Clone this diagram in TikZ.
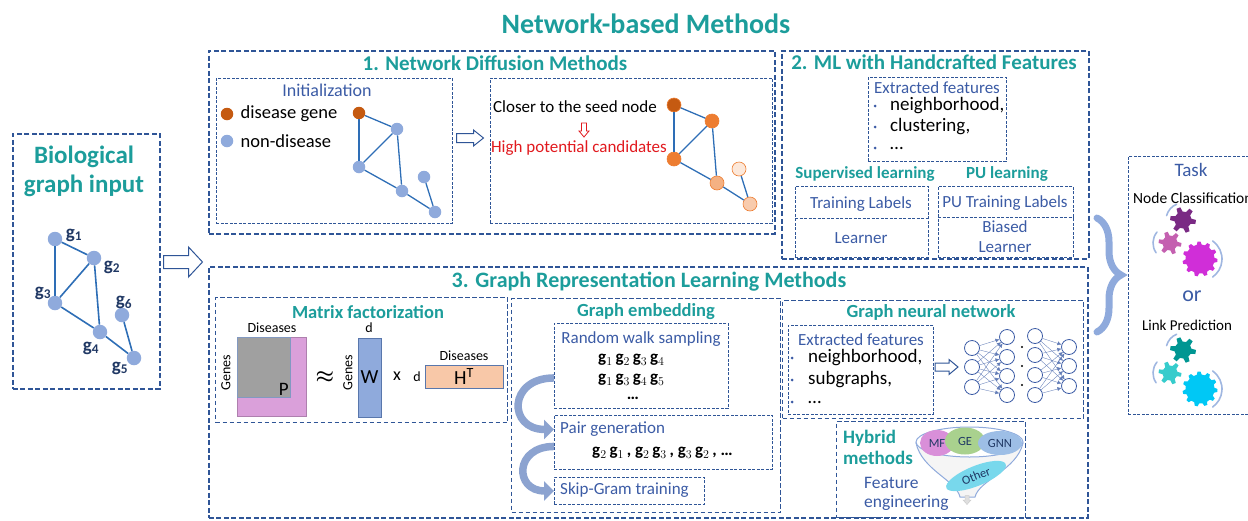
\documentclass[tikz,border=0pt]{standalone}
\usepackage{fontspec}
\setmainfont{Carlito}
\usepackage{bm}
\usetikzlibrary{arrows.meta,shapes,decorations.pathreplacing,positioning}

\definecolor{headteal}{RGB}{28,157,155}
\definecolor{boxblue}{RGB}{47,85,151}
\definecolor{txtblue}{RGB}{59,91,165}
\definecolor{nodeblue}{RGB}{143,170,220}
\definecolor{edgeblue}{RGB}{46,110,182}
\definecolor{gnavy}{RGB}{32,56,100}
\definecolor{seedorange}{RGB}{197,90,17}
\definecolor{midorange}{RGB}{237,125,49}
\definecolor{lightorange}{RGB}{244,177,131}
\definecolor{paleorange}{RGB}{248,203,173}
\definecolor{faintorange}{RGB}{252,232,218}
\definecolor{candred}{RGB}{225,25,30}
\definecolor{matgrey}{RGB}{160,160,160}
\definecolor{matpink}{RGB}{218,160,218}
\definecolor{matpeach}{RGB}{248,200,168}
\definecolor{gearpurple}{RGB}{122,42,132}
\definecolor{gearpink}{RGB}{196,96,176}
\definecolor{gearmagenta}{RGB}{208,46,216}
\definecolor{gearteal}{RGB}{0,150,146}
\definecolor{gearturq}{RGB}{54,204,204}
\definecolor{gearcyan}{RGB}{0,200,245}
\definecolor{mfpink}{RGB}{217,143,217}
\definecolor{gegreen}{RGB}{169,209,142}
\definecolor{gnnblue}{RGB}{157,190,230}
\definecolor{othercyan}{RGB}{120,216,236}
\definecolor{arrowblue}{RGB}{140,163,208}

\tikzstyle{outerbox}=[draw=boxblue, line width=1.8pt, dash pattern=on 5pt off 2.5pt, inner sep=0pt]
\tikzstyle{methodbox}=[draw=boxblue, line width=1.4pt, dash pattern=on 4.5pt off 2.5pt, inner sep=0pt]
\tikzstyle{innerbox}=[draw=boxblue, line width=0.9pt, dash pattern=on 3pt off 1.5pt, inner sep=0pt]
\tikzstyle{heading}=[font=\fontsize{21}{24}\selectfont\bfseries, text=headteal, inner sep=0pt]
\tikzstyle{subheading}=[font=\fontsize{18.5}{21}\selectfont\bfseries, text=headteal, inner sep=0pt]
\tikzstyle{bluetext}=[font=\fontsize{17}{20}\selectfont, text=txtblue, inner sep=0pt]
\tikzstyle{plaintext}=[font=\fontsize{18.5}{21}\selectfont, inner sep=0pt]
\tikzstyle{itemtext}=[font=\fontsize{19}{21}\selectfont, inner sep=0pt, anchor=west]
\tikzstyle{smalltext}=[font=\fontsize{14}{16}\selectfont, inner sep=0pt]
\tikzstyle{walktext}=[font=\fontsize{17}{20}\selectfont\bfseries, inner sep=0pt, anchor=west]
\tikzstyle{bulletdot}=[circle, fill=txtblue, minimum size=3pt, inner sep=0pt]
\tikzstyle{gvertex}=[circle, fill=nodeblue, minimum size=14.5pt, inner sep=0pt]
\tikzstyle{dvertex}=[circle, minimum size=12.5pt, inner sep=0pt]
\tikzstyle{pvertex}=[circle, minimum size=14pt, inner sep=0pt, line width=0.6pt]
\tikzstyle{glabel}=[font=\fontsize{19}{20}\selectfont\bfseries, text=gnavy, inner sep=0pt]
\tikzstyle{gedge}=[draw=edgeblue, line width=1.6pt]
\tikzstyle{dedge}=[draw=edgeblue, line width=1.3pt]
\tikzstyle{matbox}=[draw=boxblue!80, line width=0.8pt, inner sep=0pt, font=\fontsize{20}{22}\selectfont]
\tikzstyle{bendarrow}=[draw=arrowblue, line width=7.5pt, -{Triangle[length=10pt, width=19pt]}]
\tikzstyle{taskbrace}=[draw=nodeblue, line width=7pt, line cap=round, decorate, decoration={brace, amplitude=24pt}]
\tikzstyle{gearring}=[draw=nodeblue!85, line width=1.6pt, line cap=round]
\tikzstyle{neuron}=[circle, draw=txtblue, fill=white, line width=0.8pt, minimum size=15pt, inner sep=0pt]
\tikzstyle{synapse}=[draw=txtblue!80, line width=0.35pt, -{Latex[length=4pt, width=4pt]}]
\tikzstyle{funneledge}=[draw=nodeblue, line width=1pt]
\tikzstyle{oval}=[ellipse, inner sep=0pt, font=\fontsize{12.5}{14}\selectfont, text=gnavy]

% x, y, angle, length, half shaft, half head, head length, looks
\newcommand{\hollowarrow}[8]{%
  \draw[line width=1pt, #8, shift={(#1,#2)}, rotate=#3]
    (-#4/2,-#5) -- (#4/2-#7,-#5) -- (#4/2-#7,-#6) -- (#4/2,0)
    -- (#4/2-#7,#6) -- (#4/2-#7,#5) -- (-#4/2,#5) -- cycle;}

% x, y, outer radius, inner radius, teeth, colour
\newcommand{\gear}[6]{%
  \fill[#6, shift={(#1,#2)}] (0:#3) \foreach \i in {1,...,#5} {
      -- ({(\i-1+0.3)*360/#5}:#3) -- ({(\i-1+0.45)*360/#5}:#4)
      -- ({(\i-1+0.85)*360/#5}:#4) -- ({\i*360/#5}:#3) } -- cycle;}

\begin{document}
\begin{tikzpicture}[x=1pt, y=-1pt]
\useasboundingbox (0,0) rectangle (1248,520);

\node[font=\fontsize{28}{32}\selectfont\bfseries, text=headteal] (maintitle) at (646,24) {Network-based Methods};

% input graph
\node[outerbox, anchor=north west, minimum width=147, minimum height=255] (inbox) at (12,133) {};
\node[font=\fontsize{25}{29}\selectfont\bfseries, text=headteal, align=center, inner sep=0pt] (intitle) at (84,171) {Biological\\graph input};

\foreach \x/\y/\name in {55/239/g1, 94/258/g2, 55/303/g3, 100/332/g4, 134/358/g5, 122/315/g6}
    \node[gvertex] (\name) at (\x,\y) {};
\foreach \source/\dest in {g1/g2, g1/g3, g3/g2, g2/g4, g3/g4, g4/g5, g6/g5}
    \path[gedge] (\source) -- (\dest);
\foreach \name/\x/\y/\k in {g1/74/235/1, g2/112/267/2, g3/43/293/3, g4/91/348/4, g5/120/368/5, g6/124/302/6}
    \node[glabel] (\name lab) at (\x,\y) {g\textsubscript{\k}};

\hollowarrow{183}{262}{0}{39}{6.5}{15}{14}{draw=boxblue, fill=white}

% 1. network diffusion
\node[outerbox, anchor=north west, minimum width=566, minimum height=183] (ndbox) at (208,50) {};
\node[heading] (ndtitle) at (495,63) {1. Network Diffusion Methods};
\node[innerbox, anchor=north west, minimum width=236, minimum height=145] (initbox) at (216,78) {};
\node[bluetext, font=\fontsize{18}{20}\selectfont] (inittitle) at (327,90) {Initialization};
\node[dvertex, fill=seedorange] (seedkey) at (227,114) {};
\node[plaintext, right=7pt of seedkey] (seedtext) {disease gene};
\node[dvertex, fill=nodeblue] (otherkey) at (227,141) {};
\node[plaintext, right=7pt of otherkey] (othertext) {non-disease};

\def\dx{0};
\def\dy{0};
\foreach \x/\y/\name/\col in {359/113/i1/seedorange, 397/129/i2/nodeblue, 359/167/i3/nodeblue, 402/191/i4/nodeblue, 435/212/i5/nodeblue, 424/177/i6/nodeblue}
    \node[dvertex, fill=\col] (\name) at (\x+\dx,\y+\dy) {};
\foreach \source/\dest in {i1/i2, i1/i3, i3/i2, i2/i4, i3/i4, i4/i5, i6/i5}
    \path[dedge] (\source) -- (\dest);

\hollowarrow{470}{138}{0}{27}{4.5}{8}{10}{draw=boxblue, fill=white}

\node[innerbox, anchor=north west, minimum width=282, minimum height=145] (seedbox) at (490,78) {};
\node[plaintext, font=\fontsize{17}{20}\selectfont] (closer) at (575,107) {Closer to the seed node};
\hollowarrow{584}{130}{-90}{14}{2.5}{5}{6}{draw=candred, fill=white, line width=0.8pt}
\node[plaintext, font=\fontsize{17}{20}\selectfont, text=candred] (candidates) at (579,148) {High potential candidates};

\def\dx{315};
\def\dy{-8};
\foreach \x/\y/\name/\col in {359/113/p1/seedorange, 397/129/p2/midorange, 359/167/p3/midorange, 402/191/p4/lightorange, 435/212/p5/paleorange, 424/177/p6/faintorange}
    \node[pvertex, fill=\col, draw=midorange] (\name) at (\x+\dx,\y+\dy) {};
\foreach \source/\dest in {p1/p2, p1/p3, p3/p2, p2/p4, p3/p4, p4/p5, p6/p5}
    \path[dedge] (\source) -- (\dest);

% 2. handcrafted features
\node[outerbox, anchor=north west, minimum width=307, minimum height=208] (mlbox) at (781,50) {};
\node[heading] (mltitle) at (934,62) {2. ML with Handcrafted Features};
\node[innerbox, anchor=north west, minimum width=138, minimum height=84] (featbox) at (868,77) {};
\node[bluetext] (feattitle) at (937,88) {Extracted features};
\foreach \y/\feat [count=\i] in {106/{neighborhood,}, 127/{clustering,}, 148/\dots}{
    \node[bulletdot] (featdot\i) at (875,\y) {};
    \node[itemtext] (featitem\i) at (890,\y) {\feat};}

\node[subheading, font=\fontsize{17}{20}\selectfont\bfseries] (suptitle) at (865,174) {Supervised learning};
\node[subheading, font=\fontsize{17}{20}\selectfont\bfseries] (putitle) at (1007,174) {PU learning};
\node[innerbox, anchor=north west, minimum width=133, minimum height=71] (supbox) at (795,186) {};
\draw[innerbox] (supbox.west |- 0,218) -- (supbox.east |- 0,218);
\node[bluetext] (suplabels) at (861,204) {Training Labels};
\node[bluetext] (suplearner) at (861,238) {Learner};
\node[innerbox, anchor=north west, minimum width=135, minimum height=71] (pubox) at (938,186) {};
\draw[innerbox] (pubox.west |- 0,217) -- (pubox.east |- 0,217);
\node[bluetext] (pulabels) at (1005,203) {PU Training Labels};
\node[bluetext, align=center] (pulearner) at (1005,237) {Biased\\Learner};

% task
\draw[taskbrace] (1097,218) -- (1097,332);
\node[innerbox, anchor=north west, minimum width=125, minimum height=258] (taskbox) at (1128,156) {};
\node[bluetext, font=\fontsize{19}{22}\selectfont] (tasktitle) at (1191,170) {Task};
\node[inner sep=0pt, anchor=west, font=\fontsize{15.5}{18}\selectfont] (nodeclass) at (1133,198) {Node Classification};
\node[bluetext, font=\fontsize{22}{24}\selectfont] (ortext) at (1192,296) {or};
\node[inner sep=0pt, font=\fontsize{15}{18}\selectfont] (linkpred) at (1187,325) {Link Prediction};

\foreach \dy/\colA/\colB/\colC in {0/gearpurple/gearpink/gearmagenta, 130/gearteal/gearturq/gearcyan}{
    \gear{1183}{220+\dy}{13}{8.5}{6}{\colA}
    \gear{1170}{243+\dy}{11.5}{7.5}{6}{\colB}
    \gear{1200}{259+\dy}{17.5}{14.5}{11}{\colC}
    \foreach \cx/\cy/\rr/\aa/\bb in {1183/220/17/-112/-165, 1170/243/17/-140/-215, 1200/259/22/-55/55}
        \draw[gearring] (\cx,\cy+\dy) ++(\aa:\rr) arc[start angle=\aa, end angle=\bb, radius=\rr];
}

% 3. representation learning
\node[outerbox, anchor=north west, minimum width=879, minimum height=251] (grlbox) at (208,266) {};
\node[heading, font=\fontsize{22}{24}\selectfont\bfseries] (grltitle) at (649,282) {3. Graph Representation Learning Methods};

\node[methodbox, anchor=north west, minimum width=292, minimum height=125] (mfbox) at (215,297) {};
\node[subheading] (mftitle) at (368,312) {Matrix factorization};
\node[smalltext] (pcols) at (272,328) {Diseases};
\node[anchor=north west, fill=matpink, draw=matpink!80!black, line width=0.5pt, minimum width=69, minimum height=79, inner sep=0pt] (pfull) at (237,337) {};
\node[anchor=north west, fill=matgrey, draw=boxblue!60, line width=0.8pt, minimum width=53, minimum height=60, inner sep=0pt] (pmat) at (237,337) {};
\node[font=\fontsize{19}{20}\selectfont, anchor=south east, inner sep=2pt] (plabel) at (pmat.south east) {P};
\node[smalltext, rotate=90] (prows) at (226,373) {Genes};
\node[font=\fontsize{22}{24}\selectfont, inner sep=0pt] (approx) at (325,377) {$\bm{\approx}$};
\node[smalltext, rotate=90] (wrows) at (348,373) {Genes};
\node[matbox, fill=nodeblue, minimum width=23, minimum height=79] (wmat) at (369.5,377.5) {W};
\node[smalltext] (wcols) at (369,328) {d};
\node[font=\fontsize{18}{20}\selectfont, inner sep=0pt] (times) at (397,376) {x};
\node[smalltext] (hrows) at (417,377) {d};
\node[matbox, fill=matpeach, minimum width=78, minimum height=23] (hmat) at (464,376.5) {H\textsuperscript{T}};
\node[smalltext] (hcols) at (464,356) {Diseases};

\node[methodbox, anchor=north west, minimum width=269, minimum height=214] (gebox) at (511,298) {};
\node[subheading] (getitle) at (646,312) {Graph embedding};
\node[innerbox, anchor=north west, minimum width=174, minimum height=85] (rwbox) at (554,323) {};
\node[bluetext] (rwtitle) at (641,339) {Random walk sampling};
\node[walktext] (walk1) at (598,360) {$\mathbf{g}_1\,\mathbf{g}_2\,\mathbf{g}_3\,\mathbf{g}_4$};
\node[walktext] (walk2) at (598,380) {$\mathbf{g}_1\,\mathbf{g}_3\,\mathbf{g}_4\,\mathbf{g}_5$};
\node[walktext, anchor=center] (walk3) at (633,398) {\dots};
\node[innerbox, anchor=north west, minimum width=218, minimum height=54] (pairbox) at (554,415) {};
\node[bluetext, anchor=west] (pairtitle) at (560,429) {Pair generation};
\node[walktext] (pairs) at (592,453) {$\mathbf{g}_2\,\mathbf{g}_1$\,, $\mathbf{g}_2\,\mathbf{g}_3$\,, $\mathbf{g}_3\,\mathbf{g}_2$\,, \dots};
\node[innerbox, anchor=north west, minimum width=150, minimum height=27] (skipbox) at (554,477) {};
\node[bluetext, anchor=west] (skiptitle) at (560,490) {Skip-Gram training};
\draw[bendarrow] ([yshift=-12pt]rwbox.west) to[out=180, in=180, looseness=2.3] ([yshift=13pt]pairbox.west);
\draw[bendarrow] ([yshift=-4pt]pairbox.west) to[out=180, in=180, looseness=2.3] (skipbox.west);

\node[methodbox, anchor=north west, minimum width=301, minimum height=118] (gnnbox) at (782,300) {};
\node[subheading] (gnntitle) at (931,312) {Graph neural network};
\node[innerbox, anchor=north west, minimum width=145, minimum height=89] (gfeatbox) at (788,325) {};
\node[bluetext] (gfeattitle) at (861,340) {Extracted features};
\foreach \y/\feat [count=\i] in {358/{neighborhood,}, 380/{subgraphs,}, 402/\dots}{
    \node[bulletdot] (gdot\i) at (792,\y) {};
    \node[itemtext] (gitem\i) at (808,\y) {\feat};}
\hollowarrow{946.5}{367}{0}{23}{4}{7.5}{9}{draw=boxblue, fill=white}

\foreach \y [count=\i] in {348,367,387}
    \node[neuron] (in\i) at (972,\y) {};
\foreach \y [count=\i] in {337,357,376,395}
    \node[neuron] (hid\i) at (1007,\y) {};
\foreach \y [count=\i] in {336,355,375,395}
    \node[neuron] (hidb\i) at (1035,\y) {};
\foreach \y [count=\i] in {347,366,386}
    \node[neuron] (out\i) at (1069,\y) {};
\foreach \y [count=\i] in {347,366,385}
    \node[circle, fill=black, minimum size=2.2pt, inner sep=0pt] (gap\i) at (1022,\y) {};
\foreach \i in {1,2,3}
    \foreach \j in {1,...,4}
        \draw[synapse] (in\i) -- (hid\j);
\foreach \i in {1,...,4}
    \foreach \j in {1,2,3}
        \draw[synapse] (hidb\i) -- (out\j);

\node[methodbox, anchor=north west, minimum width=189, minimum height=96] (hybbox) at (836,421) {};
\node[subheading, font=\fontsize{19}{21}\selectfont\bfseries, align=left, anchor=north west] (hybtitle) at (843,430) {Hybrid\\methods};
\draw[funneledge, fill=gray!8] (916,443) .. controls (922,470) and (956,480) .. (960,497) -- (975,497) .. controls (979,480) and (1017,470) .. (1023,443) -- cycle;
\draw[funneledge, fill=white] (969.5,442) ellipse [x radius=53.5, y radius=15];
\node[oval, fill=mfpink, minimum width=34, minimum height=26] (mfnode) at (937,443) {MF};
\node[oval, fill=gegreen, minimum width=40, minimum height=27] (genode) at (965,441) {GE};
\node[oval, fill=gnnblue, minimum width=44, minimum height=24] (gnnnode) at (1000,443) {GNN};
\node[oval, fill=othercyan, minimum width=64, minimum height=20, rotate=22] (othernode) at (976,476) {Other};
\hollowarrow{967}{500}{-90}{9}{2}{4}{4.5}{draw=gray!40, fill=gray!25, line width=0.5pt}
\node[bluetext, font=\fontsize{17.5}{19.5}\selectfont, align=left, anchor=north west] (hybfeat) at (864,477) {Feature\\engineering};

\end{tikzpicture}
\end{document}
